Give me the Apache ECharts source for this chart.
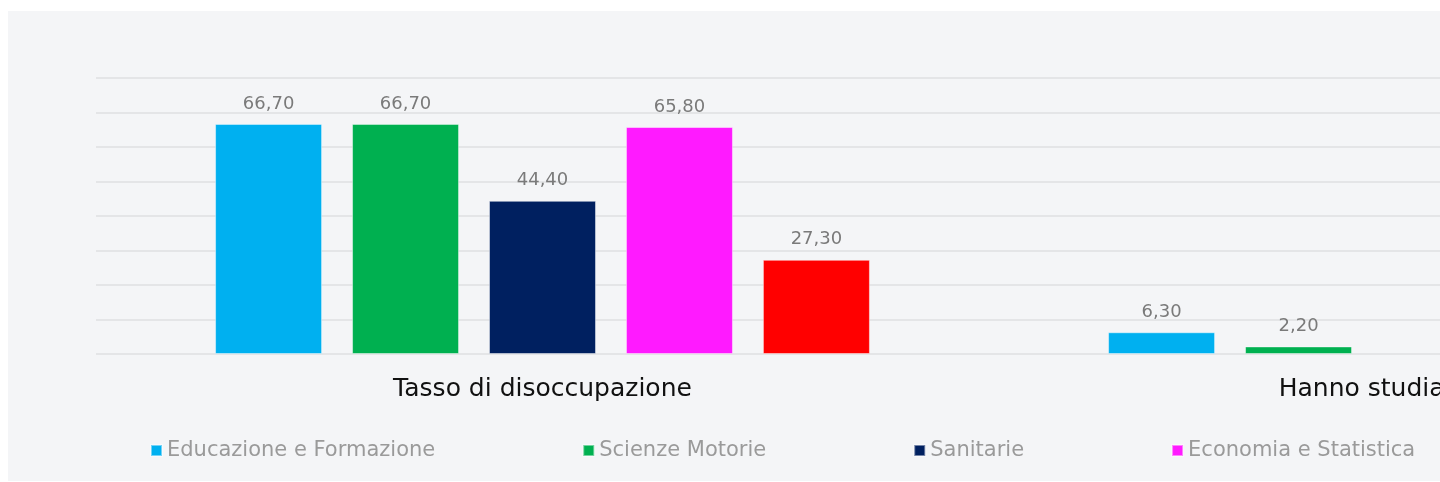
<!DOCTYPE html>
<html>
<head>
<meta charset="utf-8">
<script src="https://cdn.jsdelivr.net/npm/echarts@6/dist/echarts.min.js"></script>
<style>
  html, body { margin: 0; padding: 0; background: #ffffff; overflow: hidden; width: 1440px; height: 482px; }
  #chart { position: absolute; left: 8px; top: 11px; width: 1900px; height: 470px; background: #f4f5f7; }
</style>
</head>
<body>
<div id="chart"></div>
<script>
var categories = ['Tasso di disoccupazione', "Hanno studiato all'estero"];
var educazione = [66.7, 6.3];
var scienzeMotorie = [66.7, 2.2];
var sanitarie = [44.4, null];
var economia = [65.8, null];
var quintaSerie = [27.3, null];
var legendNames = ['Educazione e Formazione', 'Scienze Motorie', 'Sanitarie', 'Economia e Statistica'];

var FONT = 'DejaVu Sans';

function makeBar(name, data, color) {
    return {
        name: name,
        type: 'bar',
        data: data,
        barWidth: 107,
        barGap: '28%',
        itemStyle: {
            color: color,
            borderColor: 'rgba(255,255,255,0.45)',
            borderWidth: 1
        },
        label: {
            show: true,
            position: 'top',
            distance: 11,
            color: '#7a7a7a',
            fontFamily: FONT,
            fontSize: 18,
            formatter: function (p) {
                return p.value == null ? '' : p.value.toFixed(2).replace('.', ',');
            }
        }
    };
}

var myChart = echarts.init(document.getElementById('chart'));
var option = {
    animation: false,
    backgroundColor: '#f4f5f7',
    grid: {
        left: 88,
        right: 26,
        top: 67,
        bottom: 127
    },
    legend: {
        data: legendNames,
        left: 137,
        top: 424,
        itemWidth: 11,
        itemHeight: 11,
        itemGap: 147,
        icon: 'rect',
        textStyle: {
            color: '#9a9a9a',
            fontFamily: FONT,
            fontSize: 21
        }
    },
    xAxis: {
        type: 'category',
        data: categories,
        axisLine: { show: false },
        axisTick: { show: false },
        axisLabel: {
            color: '#111111',
            fontFamily: FONT,
            fontSize: 25,
            margin: 23,
            interval: 0
        }
    },
    yAxis: {
        type: 'value',
        min: 0,
        max: 80,
        interval: 10,
        axisLabel: { show: false },
        axisLine: { show: false },
        axisTick: { show: false },
        splitLine: {
            lineStyle: { color: '#e4e5e7', width: 2 }
        }
    },
    series: [
        makeBar('Educazione e Formazione', educazione, '#00b0f0'),
        makeBar('Scienze Motorie', scienzeMotorie, '#00b050'),
        makeBar('Sanitarie', sanitarie, '#002060'),
        makeBar('Economia e Statistica', economia, '#ff1aff'),
        makeBar('Quinta serie', quintaSerie, '#ff0000')
    ]
};
myChart.setOption(option);
</script>
</body>
</html>
